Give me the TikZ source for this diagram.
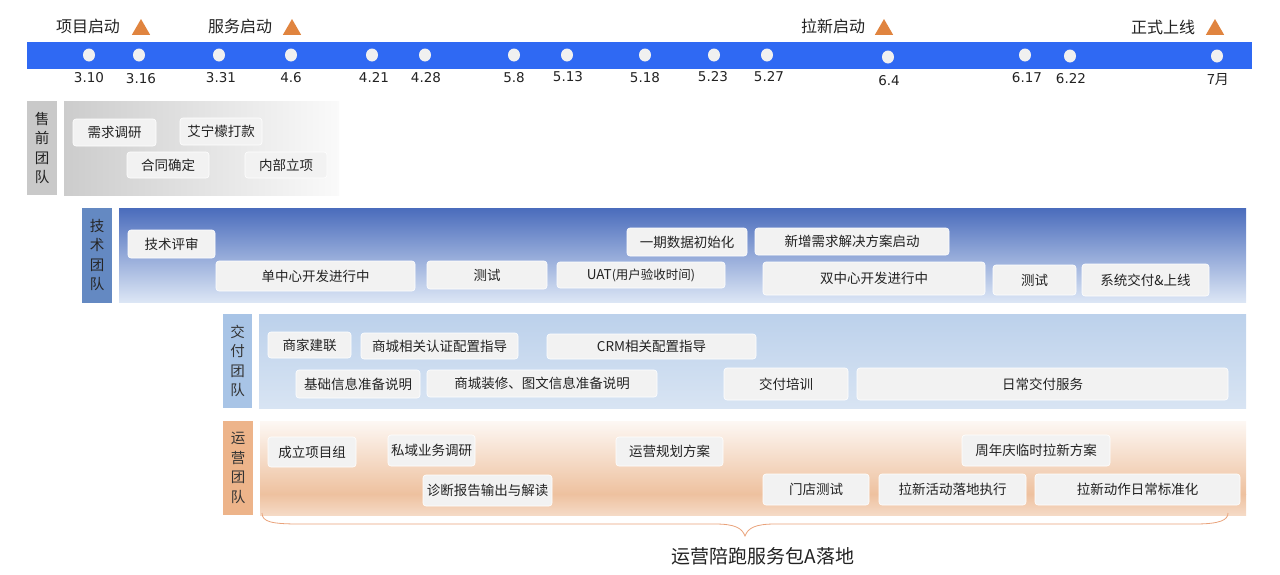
\documentclass[tikz,border=0pt]{standalone}
\usepackage{fontspec}
\setmainfont{Noto Sans CJK SC}
\newfontfamily\datefont{DejaVu Sans}
\usetikzlibrary{shapes.geometric}
\definecolor{barblue}{HTML}{2F69F3}
\definecolor{dotc}{HTML}{F0F0F0}
\definecolor{tri}{HTML}{E0843F}
\definecolor{txt}{HTML}{222222}
\definecolor{boxf}{HTML}{F2F2F2}
\definecolor{lblgray}{HTML}{C9C9C9}
\definecolor{lbltech}{HTML}{6489C2}
\definecolor{lbldel}{HTML}{A8C4E6}
\definecolor{lblops}{HTML}{EDB48A}
\definecolor{tb1}{HTML}{4A6CBC}
\definecolor{tb2}{HTML}{98B2DE}
\definecolor{tb3}{HTML}{DCE6F5}
\definecolor{db1}{HTML}{BCD1EB}
\definecolor{db2}{HTML}{C3D6EE}
\definecolor{db3}{HTML}{D8E4F3}
\definecolor{ob1}{HTML}{FDF8F4}
\definecolor{ob2}{HTML}{EEC19F}
\definecolor{ob3}{HTML}{F5DAC6}
\definecolor{brc}{HTML}{E9A27A}
\begin{document}
\begin{tikzpicture}[x=1pt,y=-1pt,
  task/.style={fill=boxf, draw=white, line width=0.6pt, rounded corners=3pt, inner sep=0pt, text=txt, font=\fontsize{13.5}{15}\selectfont},
  dot/.style={ellipse, fill=dotc, minimum width=12pt, minimum height=13pt, inner sep=0pt},
  datelbl/.style={text=txt, font=\datefont\fontsize{13.5}{16}\selectfont, inner sep=0pt},
  mstone/.style={text=txt, font=\fontsize{16}{18}\selectfont, inner sep=0pt},
  mtri/.style={regular polygon, regular polygon sides=3, fill=tri, minimum size=21pt, inner sep=0pt},
  teamlbl/.style={inner sep=0pt, align=center, font=\fontsize{14.5}{19.5}\selectfont}
]
\useasboundingbox (0,0) rectangle (1280,574);
\newcommand\tbox[6]{\node[task, minimum width={#4-#2}, minimum height={#5-#3}] (#1) at ({(#2+#4)/2},{(#3+#5)/2}) {#6};}

% timeline bar
\fill[barblue] (27,42) rectangle (1252,69);
\foreach \x/\y/\ty/\d [count=\i] in {89/55/78/3.10, 139/55/78/3.16, 219/55/78/3.31, 291/55/78/4.6, 372/55/77/4.21, 425/55/78/4.28, 514/55/78/5.8, 567/55/77/5.13, 645/55/78/5.18, 714/55/77/5.23, 767/55/77/5.27, 888/57/81/6.4, 1025/55/78/6.17, 1070/56/79/6.22, 1217/56/80/7}{
  \node[dot] (d\i) at (\x,\y) {};
}
\foreach \x/\ty/\d [count=\i] in {89/78/3.10, 141/79/3.16, 221/78/3.31, 291/78/4.6, 374/77/4.21, 426/78/4.28, 514/78/5.8, 568/77/5.13, 645/78/5.18, 713/77/5.23, 769/77/5.27, 889/81/6.4, 1027/78/6.17, 1071/79/6.22}{
  \node[datelbl] (t\i) at (\x,\ty) {\d};
}
\node[text=txt, font=\fontsize{14}{16}\selectfont, inner sep=0pt] (t15) at (1218,80) {7月};
% milestones
\node[mstone] (m1) at (88,26) {项目启动};
\node[mtri] (tr1) at (141,29.5) {};
\node[mstone] (m2) at (240,26) {服务启动};
\node[mtri] (tr2) at (292,29.5) {};
\node[mstone] (m3) at (833,26) {拉新启动};
\node[mtri] (tr3) at (884,29.5) {};
\node[mstone] (m4) at (1163,27) {正式上线};
\node[mtri] (tr4) at (1215,29.5) {};

% presale team
\fill[lblgray] (27,101) rectangle (57,195);
\node[teamlbl, text=txt] (lp) at (42,148) {售\\前\\团\\队};
\shade[left color=black!20, right color=black!2] (64,101) rectangle (339,195);
\tbox{p1}{73}{119}{156}{146}{需求调研}
\tbox{p2}{180}{118}{262}{145}{艾宁檬打款}
\tbox{p3}{127}{152}{209}{178}{合同确定}
\tbox{p4}{245}{152}{327}{178}{内部立项}

% tech team
\fill[lbltech] (82,208) rectangle (112,303);
\node[teamlbl, text=black!85] (lt) at (97,255) {技\\术\\团\\队};
\shade[top color=tb1, middle color=tb2, bottom color=tb3] (119,208) rectangle (1246,302);
\tbox{k1}{128}{230}{215}{258}{技术评审}
\tbox{k2}{216}{261}{415}{291}{单中心开发进行中}
\tbox{k3}{427}{261}{547}{289}{测试}
\tbox{k4}{557}{262}{725}{288}{UAT{\fontsize{12.5}{14}\selectfont(用户验收时间)}}
\tbox{k5}{627}{228}{747}{256}{一期数据初始化}
\tbox{k6}{755}{228}{949}{255}{新增需求解决方案启动}
\tbox{k7}{763}{262}{985}{295}{双中心开发进行中}
\tbox{k8}{993}{265}{1076}{295}{测试}
\tbox{k9}{1082}{264}{1209}{296}{系统交付\&上线}

% delivery team
\fill[lbldel] (223,314) rectangle (252,408);
\node[teamlbl, text=black!80] (ld) at (237.5,361) {交\\付\\团\\队};
\shade[top color=db1, middle color=db2, bottom color=db3] (259,314) rectangle (1246,408);
\tbox{j1}{268}{332}{351}{358}{商家建联}
\tbox{j2}{361}{333}{518}{359}{商城相关认证配置指导}
\tbox{j3}{547}{334}{756}{359}{CRM相关配置指导}
\tbox{j4}{296}{370}{420}{398}{基础信息准备说明}
\tbox{j5}{427}{370}{657}{397}{商城装修、图文信息准备说明}
\tbox{j6}{724}{368}{848}{400}{交付培训}
\tbox{j7}{857}{368}{1228}{400}{日常交付服务}

% operations team
\fill[lblops] (223,421) rectangle (253,515);
\node[teamlbl, text=black!80] (lo) at (238,468) {运\\营\\团\\队};
\shade[top color=ob1, bottom color=ob2] (260,421) rectangle (1246,494);
\shade[top color=ob2, bottom color=ob3] (260,494) rectangle (1246,515);
\tbox{o1}{268}{437}{356}{467}{成立项目组}
\tbox{o2}{388}{435}{475}{466}{私域业务调研}
\tbox{o3}{423}{475}{552}{506}{诊断报告输出与解读}
\tbox{o4}{616}{437}{723}{466}{运营规划方案}
\tbox{o5}{763}{474}{869}{505}{门店测试}
\tbox{o6}{962}{435}{1110}{466}{周年庆临时拉新方案}
\tbox{o7}{879}{474}{1026}{505}{拉新活动落地执行}
\tbox{o8}{1035}{474}{1240}{505}{拉新动作日常标准化}

% brace
\coordinate (bl) at (262,513);
\coordinate (br) at (1228,513);
\coordinate (btip) at (745,536);
\draw[brc, line width=0.8pt] (bl) .. controls (262,522) and (272,524) .. (300,524) -- (715,524)
  .. controls (735,524) and (742,528) .. (btip)
  .. controls (748,528) and (755,524) .. (775,524) -- (1195,524)
  .. controls (1220,524) and (1228,520) .. (br);
\node[inner sep=0pt, text=txt, font=\fontsize{19}{21}\selectfont] (blabel) at (763,556) {运营陪跑服务包A落地};
\end{tikzpicture}
\end{document}
